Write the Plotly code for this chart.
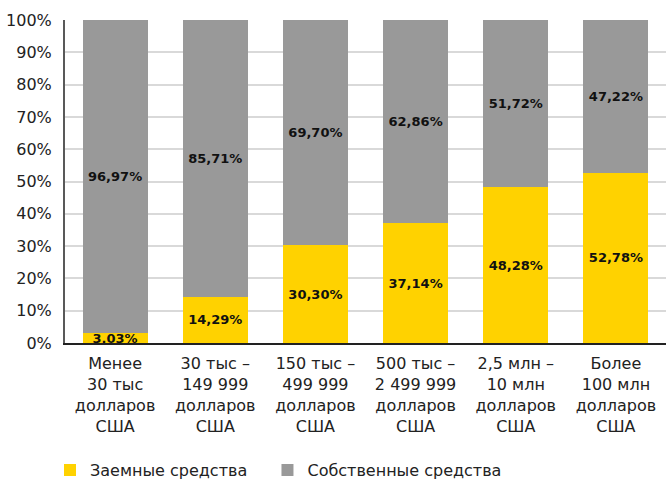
import plotly.graph_objects as go

# categories (company revenue groups)
categories = [
    "Менее<br>30 тыс<br>долларов<br>США",
    "30 тыс –<br>149 999<br>долларов<br>США",
    "150 тыс –<br>499 999<br>долларов<br>США",
    "500 тыс –<br>2 499 999<br>долларов<br>США",
    "2,5 млн –<br>10 млн<br>долларов<br>США",
    "Более<br>100 млн<br>долларов<br>США",
]
borrowed = [3.03, 14.29, 30.30, 37.14, 48.28, 52.78]
own = [96.97, 85.71, 69.70, 62.86, 51.72, 47.22]
y_ticks = [0, 10, 20, 30, 40, 50, 60, 70, 80, 90, 100]


def fmt(v):
    return f"{v:.2f}".replace(".", ",") + "%"


fig = go.Figure()
fig.add_trace(go.Bar(
    x=categories, y=[v / 100 for v in borrowed],
    # trailing no-break spaces widen the first legend entry
    name="Заемные средства\u00a0\u00a0\u00a0", marker_color="#FFD200",
    text=[fmt(v) for v in borrowed],
))
fig.add_trace(go.Bar(
    x=categories, y=[v / 100 for v in own],
    name="Собственные средства", marker_color="#999999",
    text=[fmt(v) for v in own],
))

fig.update_traces(
    marker_line_width=0, texttemplate="<b>%{text}</b>",
    textposition="inside", insidetextanchor="middle",
    textfont=dict(size=13, color="#111111", family="DejaVu Sans"),
)

fig.update_layout(
    barmode="stack",
    bargap=0.35,
    width=666, height=482,
    margin=dict(l=65, r=0, t=20, b=139),
    plot_bgcolor="white", paper_bgcolor="white",
    font=dict(family="DejaVu Sans", size=16, color="#222222"),
    uniformtext=dict(minsize=13, mode="show"),
    legend=dict(
        orientation="h", xanchor="left", xref="container", x=50 / 666,
        yref="container", y=0.06, yanchor="top", traceorder="normal",
        font=dict(size=16, color="#222222"), bgcolor="rgba(0,0,0,0)",
    ),
    xaxis=dict(
        showline=True, linecolor="#222222", linewidth=2,
        tickfont=dict(size=16), ticklabelstandoff=5, automargin=False,
    ),
    yaxis=dict(
        range=[0, 1], tickvals=[v / 100 for v in y_ticks],
        ticktext=[f"{v}%" for v in y_ticks],
        showgrid=True, gridcolor="#d9d9d9", gridwidth=1.5,
        showline=True, linecolor="#595959", linewidth=2,
        zeroline=False, ticklabelstandoff=8, automargin=False,
        tickfont=dict(size=16),
    ),
)

fig.write_html("out.html", config={"displayModeBar": False},
               post_script="document.body.style.margin='0';")
